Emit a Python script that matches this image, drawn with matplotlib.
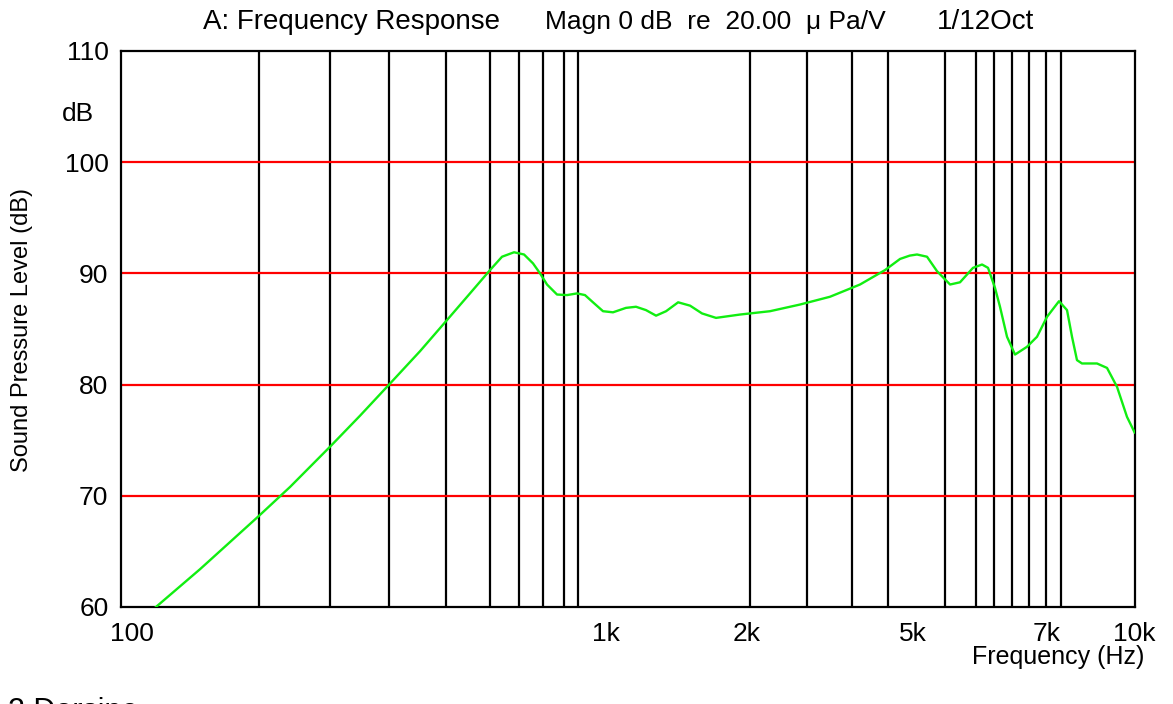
import numpy as np
import matplotlib
matplotlib.use('Agg')
import matplotlib.pyplot as plt

plt.rcParams['font.family'] = ['Liberation Sans', 'DejaVu Sans']

# frequency response (Hz, dB)
freq = [117.2, 143.2, 187.2, 215.6, 259.6, 296.2, 338.0, 389.0, 437.8, 488.2,
        534.8, 564.7, 596.4, 624.1, 650.1, 671.2, 692.8, 725.0, 758.6, 793.9,
        823.2, 853.7, 893.5, 934.9, 991.8, 1038, 1086, 1137, 1190, 1257,
        1327, 1401, 1493, 1665, 1908, 2187, 2506, 2872, 3218, 3445,
        3600, 3721, 3894, 4075, 4324, 4524, 4799, 5000, 5138, 5303, 5425,
        5601, 5808, 6133, 6418, 6718, 7093, 7356, 7525, 7697, 7874,
        8430, 8822, 9232, 9660, 10000]
spl = [60.0, 63.4, 68.2, 70.8, 74.5, 77.2, 80.0, 83.0, 85.7, 88.2,
       90.3, 91.5, 91.9, 91.7, 90.9, 90.0, 89.0, 88.1, 88.05, 88.2,
       88.05, 87.4, 86.6, 86.5, 86.9, 87.0, 86.7, 86.2, 86.6, 87.4,
       87.1, 86.4, 86.0, 86.3, 86.6, 87.2, 87.9, 89.0, 90.3, 91.3,
       91.6, 91.7, 91.5, 90.2, 89.0, 89.2, 90.5, 90.8, 90.5, 88.7, 87.0,
       84.3, 82.7, 83.4, 84.3, 86.1, 87.5, 86.7, 84.3, 82.2, 81.9,
       81.9, 81.5, 79.8, 77.1, 75.7]

# black vertical grid lines as the analyser drew them (Hz)
vgrid = [186.9, 258.4, 338.0, 437.8, 534.0, 610.9, 681.1, 749.3, 797.4,
         1742, 2253, 2770, 3262, 4226, 4872, 5280, 5723, 6180, 6696, 7168]
# red horizontal grid lines (dB)
hgrid = [70, 80, 90, 100]

xtick_pos = [105, 906, 1719, 3653, 6700, 10000]
xtick_lab = ['100', '1k', '2k', '5k', '7k', '10k']
ytick_pos = [60, 70, 80, 90, 100, 110]
ytick_lab = ['60', '70', '80', '90', '100', '110']

W, H = 1173, 704
fig = plt.figure(figsize=(W / 100, H / 100), dpi=100)
ax = fig.add_axes([121 / W, 1 - 607 / H, (1134.6 - 121) / W, (607 - 51) / H])

for f in vgrid:
    ax.axvline(f, color='black', lw=1.6, zorder=1)
for v in hgrid:
    ax.axhline(v, color='red', lw=1.6, zorder=2)
ax.plot(freq, spl, color='#11ee11', lw=1.7, zorder=3)

ax.set_xscale('log')
ax.set_xlim(100, 10000)
ax.set_ylim(60, 110)
ax.minorticks_off()
ax.set_xticks(xtick_pos)
ax.set_xticklabels(xtick_lab)
ax.set_yticks(ytick_pos)
ax.set_yticklabels(ytick_lab)
ax.tick_params(axis='x', length=0, pad=11, labelsize=19)
ax.tick_params(axis='y', length=0, pad=9, labelsize=19)
for s in ax.spines.values():
    s.set_linewidth(1.6)

# texts around the plot
fig.text(203 / W, 1 - 22 / H, 'A: Frequency Response', fontsize=20, va='center', ha='left')
fig.text(545 / W, 1 - 22 / H, 'Magn 0 dB  re  20.00  \u03bc Pa/V', fontsize=19, va='center', ha='left')
fig.text(937 / W, 1 - 22 / H, '1/12Oct', fontsize=20, va='center', ha='left')
fig.text(62 / W, 1 - 114 / H, 'dB', fontsize=19, va='center', ha='left')
fig.text(22 / W, 1 - 330 / H, 'Sound Pressure Level (dB)', fontsize=17, rotation=90,
         va='center', ha='center')
fig.text(1058 / W, 1 - 657 / H, 'Frequency (Hz)', fontsize=18, va='center', ha='center')
fig.text(8 / W, 1 - 697 / H, '2 Dorsine', fontsize=22, va='top', ha='left')

fig.savefig('out.png', dpi=100)
